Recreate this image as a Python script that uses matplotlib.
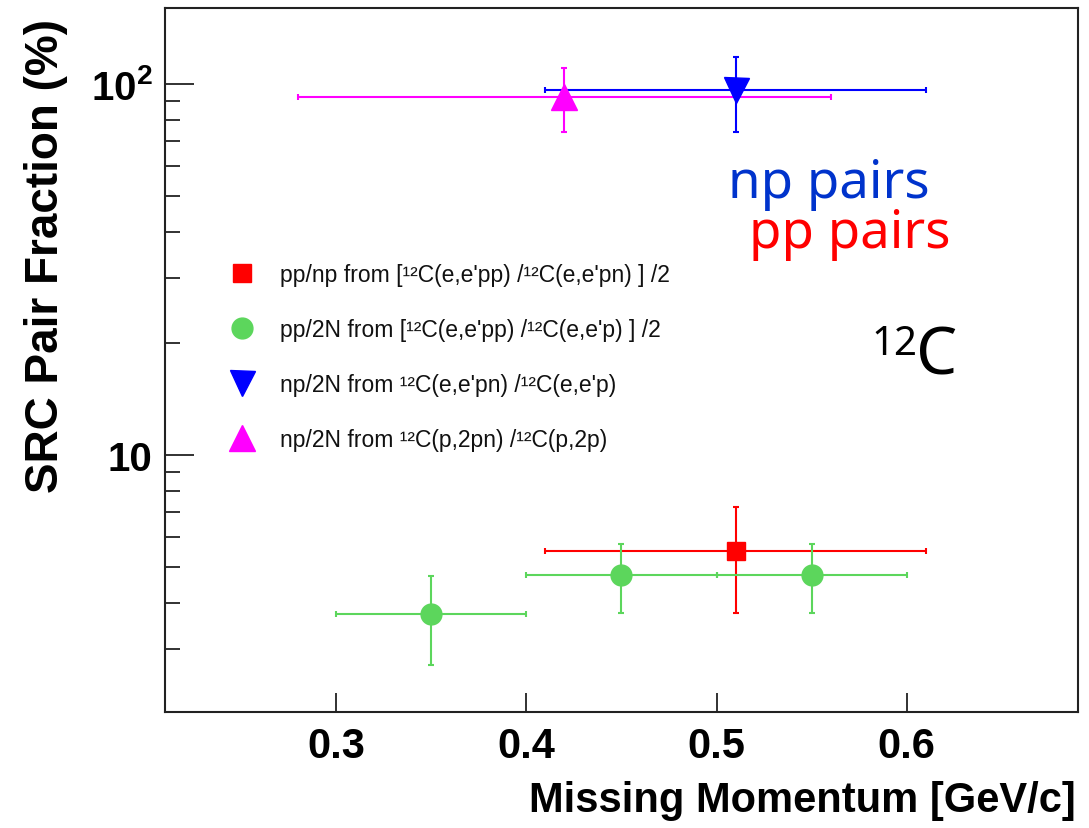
import numpy as np
import matplotlib
matplotlib.use("Agg")
import matplotlib.pyplot as plt
from matplotlib.lines import Line2D
from matplotlib.ticker import FixedLocator, FixedFormatter, LogLocator, NullFormatter

# -------------------------------
# Datos
# -------------------------------
# pp/np  (cuadrado rojo)
x_ppnp = [0.51]
y_ppnp = [5.5]
ex_ppnp = [0.10]
ey_ppnp = [1.75]

# pp/2N  (círculos verdes)
x_pp2n = [0.35, 0.45, 0.55]
y_pp2n = [3.72, 4.75, 4.75]
ex_pp2n = [0.05, 0.05, 0.05]
ey_pp2n = [1.0, 1.0, 1.0]

# np/2N (e,e'pn)  (triángulo azul)
x_np2n = [0.51]
y_np2n = [96.0]
ex_np2n = [0.10]
ey_np2n = [22.0]

# np/2N (p,2pn)  (triángulo magenta)
x_np2n_p = [0.42]
y_np2n_p = [92.0]
ex_np2n_p = [0.14]
ey_np2n_p = [18.0]

labels = [
    "pp/np from [¹²C(e,e'pp) /¹²C(e,e'pn) ] /2",
    "pp/2N from [¹²C(e,e'pp) /¹²C(e,e'p) ] /2",
    "np/2N from ¹²C(e,e'pn) /¹²C(e,e'p)",
    "np/2N from ¹²C(p,2pn) /¹²C(p,2p)",
]

xticks = [0.3, 0.4, 0.5, 0.6]
yticks = [10, 100]

# -------------------------------
# Estilo
# -------------------------------
BOLD = ["Liberation Sans", "DejaVu Sans"]
plt.rcParams["font.family"] = BOLD
plt.rcParams["mathtext.fontset"] = "custom"
plt.rcParams["mathtext.rm"] = "Liberation Sans:bold"
plt.rcParams["mathtext.bf"] = "Liberation Sans:bold"
plt.rcParams["mathtext.it"] = "Liberation Sans:bold"

fig = plt.figure(figsize=(10.89, 8.29), dpi=100)
ax = fig.add_axes([0.1515, 0.1399, 0.8384, 0.8492])

series = [
    (x_ppnp, y_ppnp, ex_ppnp, ey_ppnp, "s", 13.5, "#ff0000"),
    (x_pp2n, y_pp2n, ex_pp2n, ey_pp2n, "o", 15, "#5cd65c"),
    (x_np2n, y_np2n, ex_np2n, ey_np2n, "v", 18, "#0000ff"),
    (x_np2n_p, y_np2n_p, ex_np2n_p, ey_np2n_p, "^", 19, "#ff00ff"),
]

handles = []
for xs, ys, exs, eys, mk, ms, col in series:
    ax.errorbar(xs, ys, xerr=exs, yerr=eys, marker=mk, ms=ms, color=col,
                ls="none", elinewidth=1.5, capsize=2.5, capthick=1.5)
    handles.append(Line2D([], [], ls="none", marker=mk, ms=ms, color=col))

ax.set_yscale("log")
ax.set_xlim(0.21, 0.69)
ax.set_ylim(2.03, 160)

ax.xaxis.set_major_locator(FixedLocator(xticks))
ax.xaxis.set_major_formatter(FixedFormatter(["%.1f" % t for t in xticks]))
ax.yaxis.set_major_locator(FixedLocator(yticks))
ax.yaxis.set_major_formatter(FixedFormatter(["10", r"$\mathbf{10^{2}}$"]))
ax.yaxis.set_minor_locator(LogLocator(base=10, subs=np.arange(2, 10)))
ax.yaxis.set_minor_formatter(NullFormatter())

ax.tick_params(axis="both", which="both", direction="in", top=False, right=False,
               width=1.3, color="#222222")
ax.tick_params(axis="y", which="major", length=21, pad=9, labelsize=29)
ax.tick_params(axis="y", which="minor", length=11)
ax.tick_params(axis="x", which="major", length=14, pad=10, labelsize=30)
ax.tick_params(axis="x", which="minor", length=0)
for lab in ax.get_xticklabels() + ax.get_yticklabels():
    lab.set_fontweight("bold")

for sp in ax.spines.values():
    sp.set_linewidth(1.5)
    sp.set_color("#222222")

ax.set_ylabel("SRC Pair Fraction (%)", fontsize=33, fontweight="bold")
ax.yaxis.set_label_coords(-0.106, 0.649)
ax.set_xlabel("Missing Momentum [GeV/c]", fontsize=30, fontweight="bold", ha="right")
ax.xaxis.set_label_coords(0.997, -0.096)

leg = ax.legend(handles, labels, loc="upper left",
                bbox_to_anchor=(0.0723, 0.638), frameon=False,
                prop={"family": ["Liberation Sans", "DejaVu Sans"], "size": 16.5},
                handlelength=1.0, handletextpad=1.15, labelspacing=1.4,
                borderpad=0, borderaxespad=0, numpoints=1)
for t in leg.get_texts():
    t.set_color("#111111")

# Anotaciones
SANS = ["Noto Sans", "DejaVu Sans"]
fig.text(728 / 1089, 1 - 198 / 829, "np pairs", color="#0033cc", fontsize=38,
         family=SANS, ha="left", va="baseline")
fig.text(749 / 1089, 1 - 248 / 829, "pp pairs", color="#ff0000", fontsize=38,
         family=SANS, ha="left", va="baseline")
fig.text(871 / 1089, 1 - 355 / 829, "12", color="black", fontsize=29,
         family=SANS, ha="left", va="baseline")
fig.text(916 / 1089, 1 - 375 / 829, "C", color="black", fontsize=47,
         family=SANS, ha="left", va="baseline")

fig.savefig("out.png", dpi=100)
